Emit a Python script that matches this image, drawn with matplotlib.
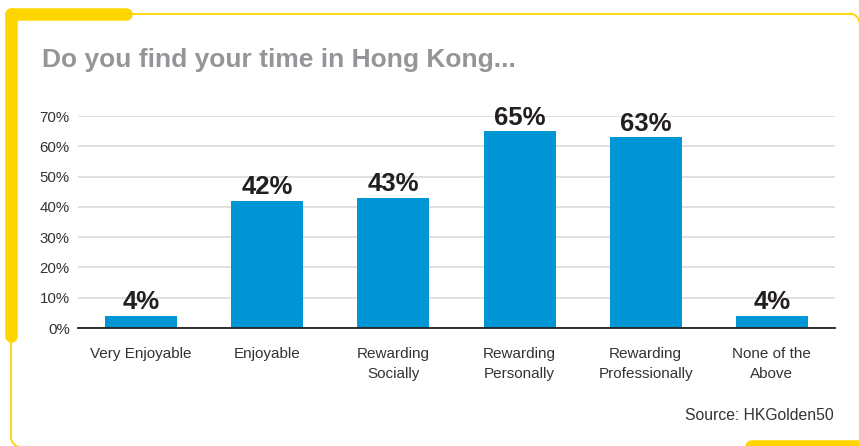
import matplotlib.pyplot as plt
from matplotlib.lines import Line2D
from matplotlib.patches import Arc

plt.rcParams['font.family'] = ['Liberation Sans', 'DejaVu Sans']

categories = ['Very Enjoyable', 'Enjoyable', 'Rewarding\nSocially', 'Rewarding\nPersonally',
              'Rewarding\nProfessionally', 'None of the\nAbove']
values = [4, 42, 43, 65, 63, 4]
yticks = [0, 10, 20, 30, 40, 50, 60, 70]

W, H = 859, 446
fig = plt.figure(figsize=(W / 100, H / 100), dpi=100)

# frame decoration in pixel coords (y axis points down)
bg = fig.add_axes([0, 0, 1, 1])
bg.set_xlim(0, W)
bg.set_ylim(H, 0)
bg.axis('off')
yellow = '#FFD500'
r = 10
right = 859.5
# thin outline: top edge with top-right corner, left edge with bottom-left corner
bg.add_line(Line2D([20, right - r], [13.5, 13.5], color=yellow, lw=1.3))
bg.add_patch(Arc((right - r, 13.5 + r), 2 * r, 2 * r, theta1=270, theta2=360,
                 color=yellow, lw=1.3))
bg.add_line(Line2D([11, 11], [13.5, 447 - r], color=yellow, lw=1.3))
bg.add_patch(Arc((11 + r, 447 - r), 2 * r, 2 * r, theta1=90, theta2=180,
                 color=yellow, lw=1.3))
# thick accents
bg.add_line(Line2D([11, 126], [13.5, 13.5], color=yellow, lw=9, solid_capstyle='round'))
bg.add_line(Line2D([11, 11], [13.5, 336], color=yellow, lw=9, solid_capstyle='round'))
bg.add_line(Line2D([751, 870], [446, 446], color=yellow, lw=9, solid_capstyle='round'))

fig.text(42 / W, 1 - 60 / H, 'Do you find your time in Hong Kong...', fontsize=19,
         fontweight='bold', color='#939598', va='center', ha='left')
fig.text(834 / W, 1 - 416 / H, 'Source: HKGolden50', fontsize=11.3, color='#333333',
         ha='right', va='center')

ax = fig.add_axes([78 / W, 1 - 328 / H, (835 - 78) / W, (328 - 116) / H])
x = list(range(len(categories)))
ax.bar(x, values, width=0.57, color='#0096D6', zorder=3)
for xi, v in zip(x, values):
    ax.text(xi, v + 0.5, f'{v}%', ha='center', va='bottom', fontsize=18.5,
            fontweight='bold', color='#231F20', zorder=4)

ax.set_xlim(-0.5, 5.5)
ax.set_ylim(0, 70)
ax.set_yticks(yticks)
ax.set_yticklabels([f'{t}%' for t in yticks], fontsize=10.8, color='#333333')
ax.set_xticks(x)
ax.set_xticklabels(categories, fontsize=11, color='#333333', linespacing=1.5, va='top')
ax.tick_params(axis='both', length=0)
ax.tick_params(axis='y', pad=6)
ax.tick_params(axis='x', pad=14)
ax.yaxis.grid(True, color='#DDDDDD', lw=1.3, zorder=0)
for s in ['top', 'right', 'left']:
    ax.spines[s].set_visible(False)
ax.spines['bottom'].set_color('#231F20')
ax.spines['bottom'].set_linewidth(1.3)
ax.spines['bottom'].set_zorder(5)
ax.patch.set_alpha(0)

fig.savefig('out.png', dpi=100)
